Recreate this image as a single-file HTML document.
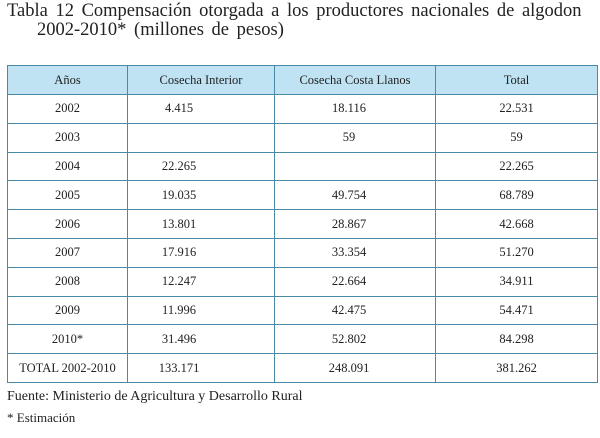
<!DOCTYPE html>
<html><head><style>
body{margin:0;width:600px;height:438px;background:#fff;font-family:"Liberation Serif",serif;color:#222;position:relative;overflow:hidden}
.t{position:absolute;left:7px;font-size:18.5px;word-spacing:3px;white-space:nowrap}
table{position:absolute;left:7px;top:65px;border-collapse:collapse;font-size:12.5px}
td{border:1px solid #4a8aa6;height:27.8px;padding:0;text-align:center}
tr.h td{background:#bfe3f3;height:28px}
.f{position:absolute;left:7px;font-size:14px;white-space:nowrap}
</style></head><body>
<div class="t" style="top:1px">Tabla 12 Compensación otorgada a los productores nacionales de algodon</div>
<div class="t" style="top:20px;left:37px">2002-2010* (millones de pesos)</div>
<table>
<tr class="h"><td style="width:119px">Años</td><td style="width:146px">Cosecha Interior</td><td style="width:160px">Cosecha Costa Llanos</td><td style="width:161px">Total</td></tr>
<tr><td>2002</td><td style="padding-right:44px">4.415</td><td style="padding-right:12px">18.116</td><td>22.531</td></tr>
<tr><td>2003</td><td></td><td style="padding-right:12px">59</td><td>59</td></tr>
<tr><td>2004</td><td style="padding-right:44px">22.265</td><td></td><td>22.265</td></tr>
<tr><td>2005</td><td style="padding-right:44px">19.035</td><td style="padding-right:12px">49.754</td><td>68.789</td></tr>
<tr><td>2006</td><td style="padding-right:44px">13.801</td><td style="padding-right:12px">28.867</td><td>42.668</td></tr>
<tr><td>2007</td><td style="padding-right:44px">17.916</td><td style="padding-right:12px">33.354</td><td>51.270</td></tr>
<tr><td>2008</td><td style="padding-right:44px">12.247</td><td style="padding-right:12px">22.664</td><td>34.911</td></tr>
<tr><td>2009</td><td style="padding-right:44px">11.996</td><td style="padding-right:12px">42.475</td><td>54.471</td></tr>
<tr><td>2010*</td><td style="padding-right:44px">31.496</td><td style="padding-right:12px">52.802</td><td>84.298</td></tr>
<tr><td>TOTAL 2002-2010</td><td style="padding-right:44px">133.171</td><td style="padding-right:12px">248.091</td><td>381.262</td></tr>
</table>
<div class="f" style="top:389px">Fuente: Ministerio de Agricultura y Desarrollo Rural</div>
<div class="f" style="top:410px;font-size:13px">* Estimación</div>
</body></html>
